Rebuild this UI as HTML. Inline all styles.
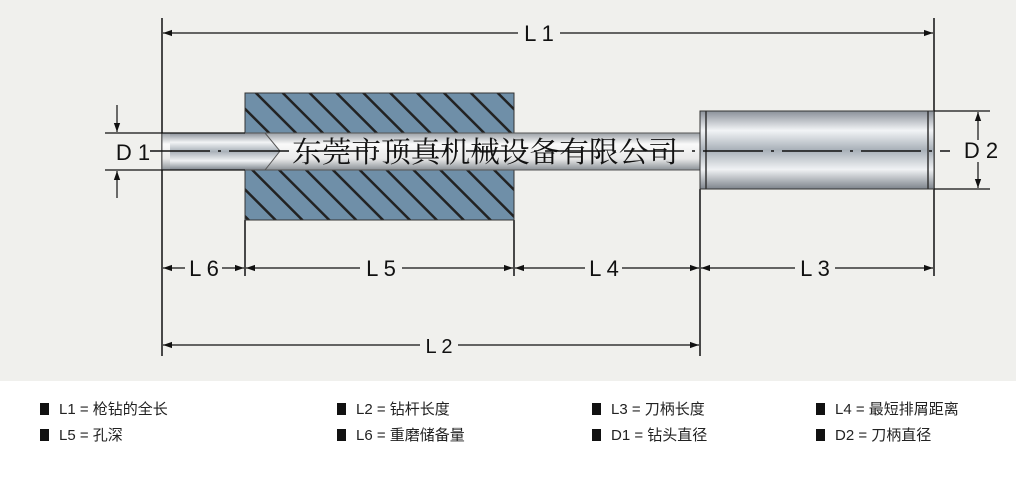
<!DOCTYPE html>
<html><head><meta charset="utf-8"><style>
body{margin:0;width:1016px;height:499px;overflow:hidden;background:#fff;font-family:"Liberation Sans","Noto Sans CJK SC",sans-serif}
.top{position:absolute;left:0;top:0;width:1016px;height:381px;background:#f0f0ed}
.leg{position:absolute;font-size:15px;color:#222;white-space:nowrap}
.leg b{display:inline-block;width:9px;height:12px;background:#111;margin-right:10px;vertical-align:-1px}
</style></head><body>
<div class="top"></div>
<svg width="1016" height="381" style="position:absolute;left:0;top:0">
<defs>
<pattern id="h" width="19" height="19" patternUnits="userSpaceOnUse" patternTransform="rotate(-45)">
<rect width="19" height="19" fill="#6f8fa8"/><rect x="0" y="0" width="2.5" height="19" fill="#222"/></pattern>
<linearGradient id="g" x1="0" y1="0" x2="0" y2="1">
<stop offset="0" stop-color="#8a9099"/><stop offset=".25" stop-color="#f2f4f6"/><stop offset=".5" stop-color="#a8b0b8"/><stop offset=".75" stop-color="#f0f2f4"/><stop offset="1" stop-color="#7d848c"/></linearGradient>
<linearGradient id="g2" x1="0" y1="0" x2="0" y2="1">
<stop offset="0" stop-color="#9aa0a6"/><stop offset=".3" stop-color="#fafafa"/><stop offset=".7" stop-color="#e8e8e8"/><stop offset="1" stop-color="#8a9096"/></linearGradient>
<marker id="a" viewBox="0 0 10 10" refX="10" refY="5" markerWidth="9" markerHeight="9" markerUnits="userSpaceOnUse" orient="auto-start-reverse"><path d="M0,1.5L10,5L0,8.5z" fill="#111"/></marker>
</defs>
<g stroke="#111" stroke-width="1.5">
<line x1="162" y1="18" x2="162" y2="356"/>
<line x1="934" y1="18" x2="934" y2="276"/>
<line x1="245" y1="220" x2="245" y2="276"/>
<line x1="514" y1="220" x2="514" y2="276"/>
<line x1="700" y1="189" x2="700" y2="356"/>
</g>
<rect x="245" y="93" width="269" height="127" fill="url(#h)" stroke="#333"/>
<path d="M162,133 L700,133 L700,170 L162,170 Z" fill="url(#g2)" stroke="#555"/>
<path d="M170,133 L265,133 L280,151 L265,170 L170,170" fill="url(#g)" stroke="#555"/>
<path d="M700,111 L934,111 L934,189 L700,189 Z" fill="url(#g)" stroke="#333"/>
<line x1="706" y1="111" x2="706" y2="189" stroke="#333" stroke-width="1.5"/>
<line x1="928" y1="111" x2="928" y2="189" stroke="#333" stroke-width="1.5"/>
<line x1="150" y1="151" x2="950" y2="151" stroke="#111" stroke-width="1.5" stroke-dasharray="60,8,3,8"/>
<g stroke="#111" stroke-width="1.2">
<line x1="105" y1="133" x2="245" y2="133"/><line x1="105" y1="170" x2="245" y2="170"/>
<line x1="934" y1="111" x2="990" y2="111"/><line x1="934" y1="189" x2="990" y2="189"/>
<line x1="117" y1="105" x2="117" y2="132" marker-end="url(#a)"/>
<line x1="117" y1="198" x2="117" y2="171" marker-end="url(#a)"/>
<line x1="978" y1="140" x2="978" y2="112" marker-end="url(#a)"/>
<line x1="978" y1="162" x2="978" y2="188" marker-end="url(#a)"/>
<line x1="163" y1="33" x2="518" y2="33" marker-start="url(#a)"/><line x1="560" y1="33" x2="933" y2="33" marker-end="url(#a)"/>
<line x1="163" y1="268" x2="185" y2="268" marker-start="url(#a)"/><line x1="222" y1="268" x2="244" y2="268" marker-end="url(#a)"/>
<line x1="246" y1="268" x2="360" y2="268" marker-start="url(#a)"/><line x1="402" y1="268" x2="513" y2="268" marker-end="url(#a)"/>
<line x1="515" y1="268" x2="585" y2="268" marker-start="url(#a)"/><line x1="622" y1="268" x2="699" y2="268" marker-end="url(#a)"/>
<line x1="701" y1="268" x2="795" y2="268" marker-start="url(#a)"/><line x1="835" y1="268" x2="933" y2="268" marker-end="url(#a)"/>
<line x1="163" y1="345" x2="420" y2="345" marker-start="url(#a)"/><line x1="458" y1="345" x2="699" y2="345" marker-end="url(#a)"/>
</g>
<g font-family="Liberation Sans,sans-serif" font-size="22" fill="#111" text-anchor="middle">
<text x="539" y="41">L 1</text>
<text x="133" y="160">D 1</text>
<text x="981" y="158">D 2</text>
<text x="204" y="276">L 6</text>
<text x="381" y="276">L 5</text>
<text x="604" y="276">L 4</text>
<text x="815" y="276">L 3</text>
<text x="439" y="353" font-size="20">L 2</text>
</g>
<text x="485" y="162" font-family="Liberation Serif,'Noto Serif CJK SC',serif" font-size="29" fill="#111" text-anchor="middle" textLength="386" lengthAdjust="spacingAndGlyphs">东莞市顶真机械设备有限公司</text>
</svg>
<div class="leg" style="left:40px;top:398px"><b></b>L1 = 枪钻的全长</div>
<div class="leg" style="left:337px;top:398px"><b></b>L2 = 钻杆长度</div>
<div class="leg" style="left:592px;top:398px"><b></b>L3 = 刀柄长度</div>
<div class="leg" style="left:816px;top:398px"><b></b>L4 = 最短排屑距离</div>
<div class="leg" style="left:40px;top:424px"><b></b>L5 = 孔深</div>
<div class="leg" style="left:337px;top:424px"><b></b>L6 = 重磨储备量</div>
<div class="leg" style="left:592px;top:424px"><b></b>D1 = 钻头直径</div>
<div class="leg" style="left:816px;top:424px"><b></b>D2 = 刀柄直径</div>
</body></html>
